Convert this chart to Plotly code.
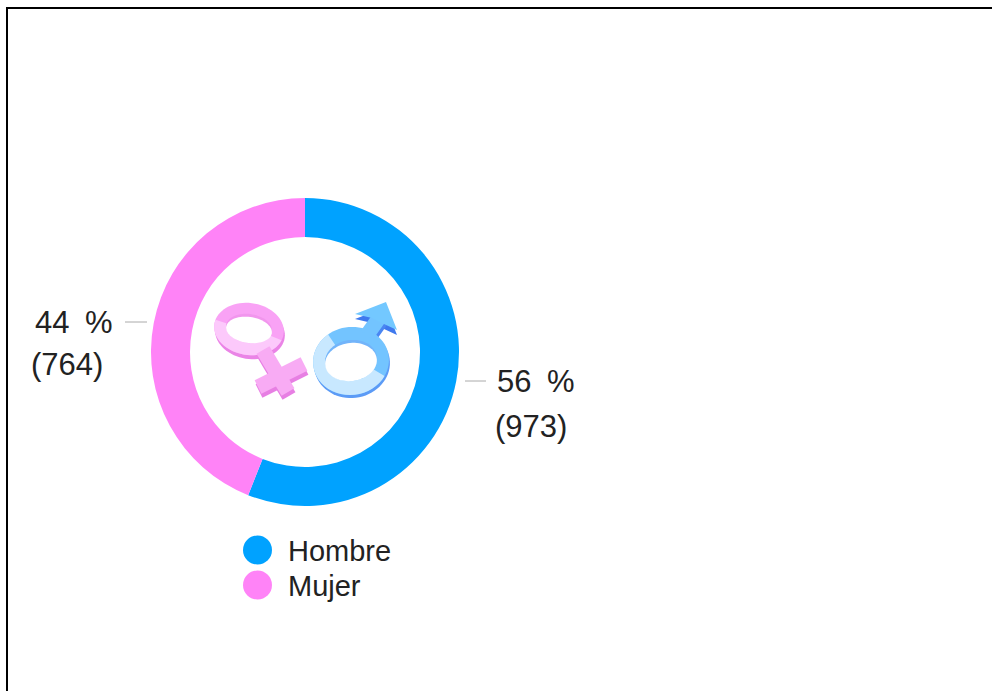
import numpy as np
import plotly.graph_objects as go

W, H = 992, 691
categories = ["Hombre", "Mujer"]
counts = [973, 764]
percent_labels = ["56\u2002%", "44\u2002%"]
colors = ["#00A2FF", "#FF83F7"]
FONT = "Liberation Sans"
TEXT = "#222222"

def X(px): return px / W
def Y(py): return 1 - py / H

def path(points):
    return "M" + " L".join(f"{X(a):.5f},{Y(b):.5f}" for a, b in points) + " Z"

def ring_pts(cx, cy, rx, ry, rot=0.0, a0=0.0, a1=360.0, n=72):
    t = np.radians(np.linspace(a0, a1, n))
    r = np.radians(rot)
    x = rx * np.cos(t); y = ry * np.sin(t)
    return list(zip(cx + x*np.cos(r) - y*np.sin(r), cy + x*np.sin(r) + y*np.cos(r)))

def poly(points, fill):
    return dict(type="path", xref="paper", yref="paper", path=path(points),
                fillcolor=fill, line=dict(width=0), layer="above")

def sector(c, o, i, rot, a0, a1, fill):
    return poly(ring_pts(*c, *o, rot, a0, a1, 30) + ring_pts(*c, *i, rot, a1, a0, 30), fill)

def bar(p, q, w):
    p, q = np.array(p, float), np.array(q, float)
    d = q - p
    n = np.array([-d[1], d[0]]) / np.hypot(*d) * w / 2
    return [tuple(p+n), tuple(q+n), tuple(q-n), tuple(p-n)]

def shift(pts, dx, dy):
    return [(a+dx, b+dy) for a, b in pts]

shapes = []
# page frame
shapes += [dict(type="rect", xref="paper", yref="paper", x0=X(6), x1=X(8), y0=Y(7), y1=Y(H),
                fillcolor="#000000", line=dict(width=0)),
           dict(type="rect", xref="paper", yref="paper", x0=X(6), x1=X(W), y0=Y(7), y1=Y(9),
                fillcolor="#000000", line=dict(width=0))]
# leader lines
for a, b, yy in [(465, 486, 381), (125, 147, 322)]:
    shapes.append(dict(type="line", xref="paper", yref="paper", x0=X(a), x1=X(b), y0=Y(yy), y1=Y(yy),
                       line=dict(color="#AAAAAA", width=1)))

# female icon
fc, fo, fi = (249, 329), (35, 26), (23, 14)
f_a = bar((263, 350), (288, 392), 15)
f_b = bar((258, 387), (304, 364), 15)
for pts in (f_a, f_b):
    shapes.append(poly(shift(pts, 1, 4), "#E77FE3"))
shapes.append(poly(ring_pts(fc[0]+1, fc[1]+4, *fo, 8), "#EA84E6"))
shapes.append(poly(ring_pts(*fc, *fo, 8), "#F9A2F5"))
shapes.append(sector(fc, fo, fi, 8, 15, 190, "#FCC9FB"))
shapes.append(poly(ring_pts(fc[0], fc[1]-1, *fi, 8), "#F196ED"))
shapes.append(poly(ring_pts(fc[0], fc[1]+1, fi[0], fi[1]-1, 8), "#FFFFFF"))
for pts in (f_a, f_b):
    shapes.append(poly(pts, "#F8ABF4"))

# male icon
mc, mo, mi = (351, 361), (38, 34), (26, 20)
m_shaft = bar((367, 335), (384, 311), 15)
m_head = [(355, 314), (386, 302), (397, 330), (384, 324), (372, 318)]
shapes.append(poly(shift(m_head, 0, 5), "#3F79EE"))
shapes.append(poly(shift(m_shaft, 1, 4), "#4A86F2"))
shapes.append(poly(ring_pts(mc[0]+1, mc[1]+3, *mo, -8), "#5C9BF6"))
shapes.append(poly(ring_pts(*mc, *mo, -8), "#73C4FF"))
shapes.append(sector(mc, mo, mi, -8, 35, 240, "#C8E8FF"))
shapes.append(poly(ring_pts(mc[0], mc[1]-1, *mi, -8), "#72B4FA"))
shapes.append(poly(ring_pts(mc[0], mc[1]+1, mi[0], mi[1]-1, -8), "#FFFFFF"))
shapes.append(poly(m_shaft, "#73C4FF"))
shapes.append(poly(m_head, "#73C8FF"))

# legend dots
legend_y = [550, 585]
for col, yy in zip(colors, legend_y):
    shapes.append(dict(type="circle", xref="paper", yref="paper",
                       x0=X(243), x1=X(272), y0=Y(yy-14.5), y1=Y(yy+14.5),
                       fillcolor=col, line=dict(width=0)))

annotations = []
def note(px, py, text, size):
    annotations.append(dict(x=X(px), y=Y(py), xref="paper", yref="paper", text=text, showarrow=False,
                            xanchor="left", yanchor="middle", align="left",
                            font=dict(family=FONT, size=size, color=TEXT)))

label_x = [(495, 493), (33, 29)]
label_y = [(382, 427), (322, 364)]
for i in range(2):
    note(label_x[i][0], label_y[i][0], percent_labels[i], 31)
    note(label_x[i][1], label_y[i][1], f"({counts[i]})", 31)
for name, yy in zip(categories, legend_y):
    note(286, yy + 1, name, 29)

cx, cy, R, r = 305, 352, 154, 115
fig = go.Figure(go.Pie(
    labels=categories, values=counts, sort=False, direction="clockwise", rotation=0,
    hole=r / R, textinfo="none", hoverinfo="label+value+percent", showlegend=False,
    marker=dict(colors=colors, line=dict(width=0)),
    domain=dict(x=[X(cx-R), X(cx+R)], y=[Y(cy+R), Y(cy-R)]),
))
fig.update_layout(width=W, height=H, margin=dict(l=0, r=0, t=0, b=0), autosize=False,
                  paper_bgcolor="#FFFFFF", shapes=shapes, annotations=annotations, showlegend=False)
fig.write_html("out.html", config=dict(displayModeBar=False),
               post_script="document.body.style.margin='0';document.body.style.overflow='hidden';")
